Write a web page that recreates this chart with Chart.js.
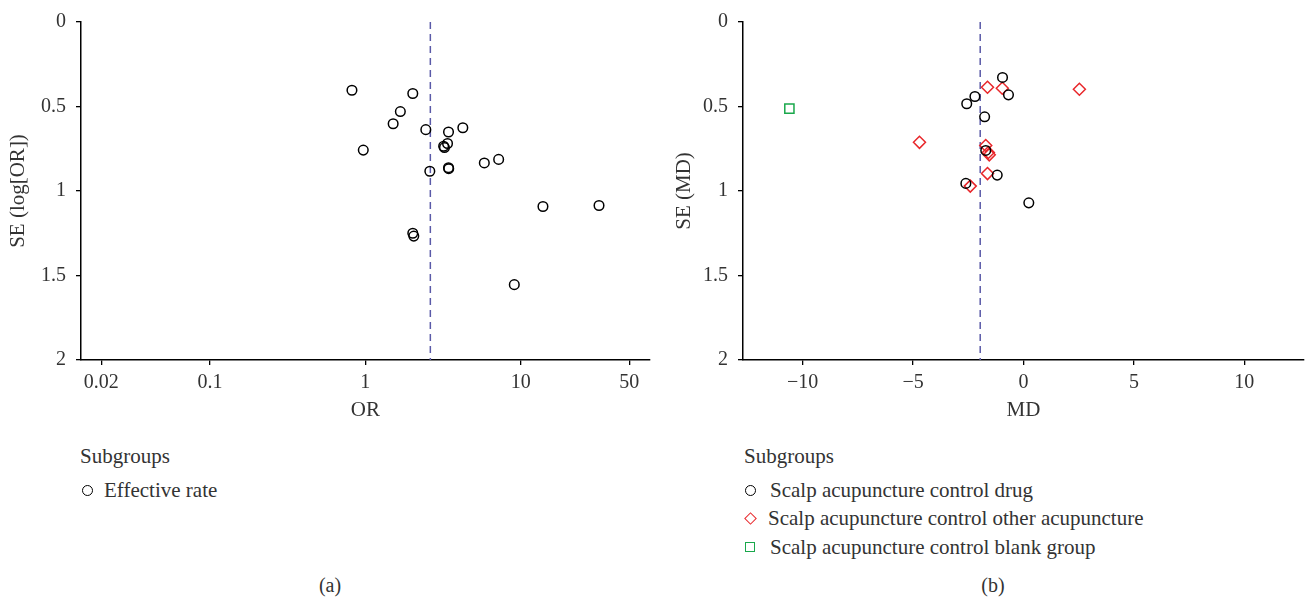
<!DOCTYPE html>
<html>
<head>
<meta charset="utf-8">
<script src="https://cdn.jsdelivr.net/npm/chart.js@4.4.1/dist/chart.umd.min.js"></script>
<style>
  body { margin: 0; background: #fff; }
  #wrap { position: relative; width: 1312px; height: 599px; font-family: "Liberation Serif", "DejaVu Serif", serif; color: #333; }
  canvas { position: absolute; top: 0; }
  .lg { position: absolute; font-size: 21px; line-height: 28px; white-space: nowrap; }
  .mk { display: inline-block; box-sizing: border-box; vertical-align: middle; position: relative; top: -2px; }
  .circ { width: 11px; height: 11px; border: 1.5px solid #000; border-radius: 50%; }
  .diam { width: 9px; height: 9px; border: 1.5px solid #e8262a; transform: rotate(45deg); margin-left: 1px; }
  .sq { width: 10px; height: 10px; border: 1.5px solid #19a84b; }
  .cap { position: absolute; width: 60px; text-align: center; font-size: 20px; line-height: 24px; }
</style>
</head>
<body>
<div id="wrap">
  <canvas id="chartA" width="656" height="440" style="left:0"></canvas>
  <canvas id="chartB" width="656" height="440" style="left:656px"></canvas>

  <div class="lg" style="left:80px; top:442px">Subgroups</div>
  <div class="lg" style="left:82px; top:476px"><span class="mk circ"></span><span style="margin-left:11px">Effective rate</span></div>

  <div class="lg" style="left:744px; top:442px">Subgroups</div>
  <div class="lg" style="left:745px; top:476px"><span class="mk circ"></span><span style="margin-left:14px">Scalp acupuncture control drug</span></div>
  <div class="lg" style="left:745px; top:504px"><span class="mk diam"></span><span style="margin-left:13px">Scalp acupuncture control other acupuncture</span></div>
  <div class="lg" style="left:745px; top:533px"><span class="mk sq"></span><span style="margin-left:15px">Scalp acupuncture control blank group</span></div>

  <div class="cap" style="left:300px; top:573px">(a)</div>
  <div class="cap" style="left:963px; top:573px">(b)</div>
</div>

<script>
// (a) effective rate: odds ratio and its standard error
const orValues = [0.82, 2.02, 1.68, 1.51, 2.45, 3.43, 4.24, 0.97, 3.19, 3.38, 3.23, 5.83, 7.21, 2.60, 3.43, 3.44, 13.9, 31.9, 2.02, 2.05, 9.09];
const orSE     = [0.404, 0.423, 0.530, 0.602, 0.637, 0.651, 0.626, 0.758, 0.735, 0.719, 0.743, 0.834, 0.813, 0.883, 0.862, 0.868, 1.092, 1.086, 1.250, 1.267, 1.554];
const pooledOR = 2.62;
const orTicks = [0.02, 0.1, 1, 10, 50];

// (b) mean difference per subgroup
const drugMD = [-0.95, -2.20, -2.57, -0.68, -1.76, -1.71, -1.19, -2.61, 0.24];
const drugSE = [0.328, 0.441, 0.484, 0.431, 0.561, 0.760, 0.906, 0.955, 1.070];
const otherMD = [-1.63, -0.96, 2.53, -4.71, -1.71, -1.59, -1.55, -1.63, -2.41];
const otherSE = [0.386, 0.392, 0.398, 0.712, 0.731, 0.772, 0.786, 0.897, 0.971];
const blankMD = [-10.6];
const blankSE = [0.513];
const pooledMD = -1.96;
const mdTicks = [-10, -5, 0, 5, 10];

const seTicks = [0, 0.5, 1, 1.5, 2];

const serif = '"Liberation Serif", "DejaVu Serif", serif';
const tickFont = { family: serif, size: 20 };
const titleFont = { family: serif, size: 21 };

function pts(xs, ys) {
    return xs.map((x, i) => ({ x: x, y: ys[i] }));
}

function seAxis(title, width, titlePad) {
    return {
        reverse: true,
        min: 0,
        max: 2,
        afterBuildTicks: s => { s.ticks = seTicks.map(v => ({ value: v })); },
        afterFit: s => { s.width = width; },
        ticks: { callback: v => String(v), font: tickFont, color: '#333', padding: 10 },
        grid: { drawOnChartArea: false, tickLength: 5, color: '#000', lineWidth: 1.3 },
        border: { color: '#000', width: 1.5 },
        title: { display: true, text: title, font: titleFont, color: '#333', padding: { top: titlePad, bottom: 0 } }
    };
}

// Gráfico (a)
new Chart(document.getElementById('chartA').getContext('2d'), {
    type: 'scatter',
    data: {
        datasets: [
            {
                data: pts(orValues, orSE),
                pointStyle: 'circle',
                pointRadius: 4.8,
                borderColor: '#000',
                backgroundColor: 'rgba(0,0,0,0)',
                borderWidth: 1.5
            },
            {
                data: [{ x: pooledOR, y: 0 }, { x: pooledOR, y: 2 }],
                showLine: true,
                pointRadius: 0,
                borderColor: '#5a5aa8',
                borderDash: [7, 5],
                borderWidth: 1.5
            }
        ]
    },
    options: {
        responsive: false,
        animation: false,
        layout: { padding: { top: 18, right: 4, left: 0, bottom: 0 } },
        plugins: { legend: { display: false }, tooltip: { enabled: false } },
        scales: {
            x: {
                type: 'logarithmic',
                min: 0.0148,
                max: 67.6,
                afterBuildTicks: s => { s.ticks = orTicks.map(v => ({ value: v })); },
                afterFit: s => { s.height = 80; },
                ticks: { callback: v => String(v), font: tickFont, color: '#333', padding: 6, autoSkip: false, maxRotation: 0 },
                grid: { drawOnChartArea: false, tickLength: 5, color: '#000', lineWidth: 1.3 },
                border: { color: '#000', width: 1.5 },
                title: { display: true, text: 'OR', font: titleFont, color: '#333', padding: { top: 0, bottom: 17 } }
            },
            y: seAxis('SE (log[OR])', 81, 6)
        }
    }
});

// Gráfico (b)
new Chart(document.getElementById('chartB').getContext('2d'), {
    type: 'scatter',
    data: {
        datasets: [
            {
                data: pts(drugMD, drugSE),
                pointStyle: 'circle',
                pointRadius: 4.8,
                borderColor: '#000',
                backgroundColor: 'rgba(0,0,0,0)',
                borderWidth: 1.5
            },
            {
                data: pts(otherMD, otherSE),
                pointStyle: 'rectRot',
                pointRadius: 6,
                borderColor: '#e8262a',
                backgroundColor: 'rgba(0,0,0,0)',
                borderWidth: 1.5
            },
            {
                data: pts(blankMD, blankSE),
                pointStyle: 'rect',
                pointRadius: 6.5,
                borderColor: '#19a84b',
                backgroundColor: 'rgba(0,0,0,0)',
                borderWidth: 1.5
            },
            {
                data: [{ x: pooledMD, y: 0 }, { x: pooledMD, y: 2 }],
                showLine: true,
                pointRadius: 0,
                borderColor: '#5a5aa8',
                borderDash: [7, 5],
                borderWidth: 1.5
            }
        ]
    },
    options: {
        responsive: false,
        animation: false,
        layout: { padding: { top: 18, right: 0, left: 0, bottom: 0 } },
        plugins: { legend: { display: false }, tooltip: { enabled: false } },
        scales: {
            x: {
                type: 'linear',
                min: -12.7,
                max: 12.7,
                afterBuildTicks: s => { s.ticks = mdTicks.map(v => ({ value: v })); },
                afterFit: s => { s.height = 80; },
                ticks: { callback: v => (v < 0 ? '\u2212' + Math.abs(v) : String(v)), font: tickFont, color: '#333', padding: 6, autoSkip: false, maxRotation: 0 },
                grid: { drawOnChartArea: false, tickLength: 5, color: '#000', lineWidth: 1.3 },
                border: { color: '#000', width: 1.5 },
                title: { display: true, text: 'MD', font: titleFont, color: '#333', padding: { top: 0, bottom: 17 } }
            },
            y: seAxis('SE (MD)', 87, 16)
        }
    }
});
</script>
</body>
</html>
